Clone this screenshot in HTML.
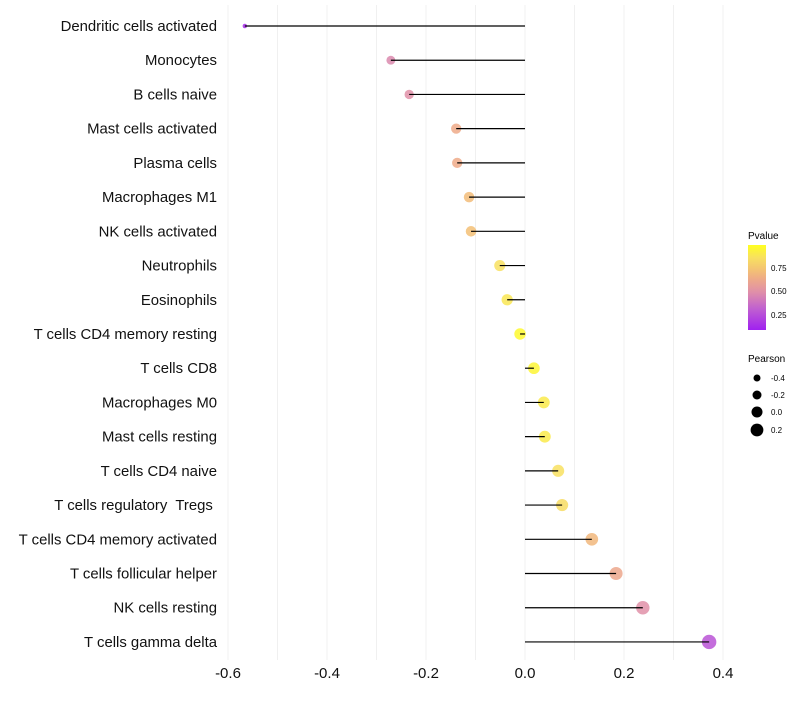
<!DOCTYPE html>
<html><head><meta charset="utf-8"><style>
body{margin:0;background:#fff;font-family:"Liberation Sans",sans-serif}
text{white-space:pre}
</style></head><body>
<svg id="chart" width="800" height="700" xmlns="http://www.w3.org/2000/svg" font-family="Liberation Sans, sans-serif">
<defs><linearGradient id="pg" x1="0" y1="1" x2="0" y2="0">
<stop offset="0" stop-color="#A020F0"/><stop offset="0.25" stop-color="#C060D0"/><stop offset="0.45" stop-color="#E090A8"/><stop offset="0.6" stop-color="#EEAA88"/><stop offset="0.7" stop-color="#F3C075"/><stop offset="0.85" stop-color="#F8E060"/><stop offset="1" stop-color="#FFFF20"/></linearGradient></defs>
<g id="grid"></g><g id="marks"></g><g id="labels"></g>
<g>
<text x="748" y="239" font-size="10">Pvalue</text>
<rect x="748" y="245" width="18" height="85" fill="url(#pg)"/>
<text x="771" y="271" font-size="8">0.75</text>
<text x="771" y="294" font-size="8">0.50</text>
<text x="771" y="318" font-size="8">0.25</text>
</g>
<g>
<text x="748" y="362" font-size="10">Pearson</text>
<circle cx="757" cy="378" r="3.5"/><text x="771" y="381" font-size="8">-0.4</text>
<circle cx="757" cy="395" r="4.5"/><text x="771" y="398" font-size="8">-0.2</text>
<circle cx="757" cy="412" r="5.5"/><text x="771" y="415" font-size="8">0.0</text>
<circle cx="757" cy="430" r="6.4"/><text x="771" y="433" font-size="8">0.2</text>
</g>
</svg>
<script>
const categories=["Dendritic cells activated","Monocytes","B cells naive","Mast cells activated","Plasma cells","Macrophages M1","NK cells activated","Neutrophils","Eosinophils","T cells CD4 memory resting","T cells CD8","Macrophages M0","Mast cells resting","T cells CD4 naive","T cells regulatory  Tregs ","T cells CD4 memory activated","T cells follicular helper","NK cells resting","T cells gamma delta"];
const pearson=[-0.566,-0.271,-0.234,-0.139,-0.137,-0.113,-0.109,-0.051,-0.036,-0.01,0.018,0.038,0.04,0.067,0.075,0.135,0.184,0.238,0.372];
const pvalue=[0.05,0.42,0.45,0.6,0.6,0.68,0.7,0.85,0.88,0.97,0.95,0.9,0.9,0.85,0.83,0.66,0.58,0.45,0.2];
const xTicks=[-0.6,-0.4,-0.2,0.0,0.2,0.4];
const NS="http://www.w3.org/2000/svg";
const x=v=>525+v*495;
const y=i=>26+i*34.22;
function mk(t,a,p){const e=document.createElementNS(NS,t);for(const k in a)e.setAttribute(k,a[k]);p.appendChild(e);return e;}
const stops=[[0,[160,32,240]],[0.25,[192,96,208]],[0.45,[224,144,168]],[0.6,[238,170,136]],[0.7,[243,192,117]],[0.85,[248,224,96]],[1,[255,255,32]]];
function col(p){for(let k=1;k<stops.length;k++){if(p<=stops[k][0]){const a=stops[k-1],b=stops[k];const t=(p-a[0])/(b[0]-a[0]);return `rgb(${a[1].map((v,i)=>Math.round(v+(b[1][i]-v)*t))})`;}}return 'rgb(255,255,32)';}
const grid=document.getElementById('grid'),marks=document.getElementById('marks'),labels=document.getElementById('labels');
for(let v=-0.6;v<=0.41;v+=0.1){const g=mk('line',{x1:x(v),x2:x(v),y1:5,y2:660,stroke:'#f0f0f0','stroke-width':1},grid);

}
xTicks.forEach(v=>{const t=mk('text',{x:x(v),y:678,'font-size':15,'text-anchor':'middle',fill:'#111'},labels);t.textContent=v.toFixed(1);

});
categories.forEach((c,i)=>{const t=mk('text',{x:217,y:y(i)+5,'font-size':14.9,'text-anchor':'end',fill:'#111'},labels);t.textContent=c;


const r=Math.sqrt(Math.max(1,5+(pearson[i]+0.566)*50));
const pt=mk('circle',{cx:x(pearson[i]),cy:y(i),r:r,fill:col(pvalue[i]),'fill-opacity':0.85},marks);


const ln=mk('line',{x1:x(0),x2:x(pearson[i]),y1:y(i),y2:y(i),stroke:'#000','stroke-width':1.2},marks);

});
</script>
</body></html>
